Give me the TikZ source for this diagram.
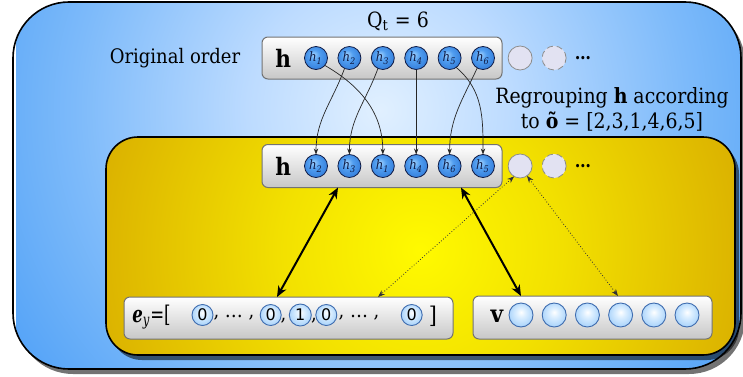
\documentclass[tikz,border=0pt]{standalone}
\usepackage{fontspec}
\setmainfont{DejaVu Serif Condensed}
\setsansfont{DejaVu Sans}
\usetikzlibrary{positioning, arrows.meta}

% background glows and ball shadings
\pgfdeclareradialshading{skyglow}{\pgfpoint{0bp}{0bp}}{rgb(0bp)=(0.88,0.94,1); rgb(9bp)=(0.74,0.86,1); rgb(21bp)=(0.49,0.73,0.98); rgb(30bp)=(0.33,0.64,0.97); rgb(36bp)=(0.25,0.59,0.96); rgb(50bp)=(0.23,0.57,0.96)}
\pgfdeclareradialshading{sunglow}{\pgfpoint{0bp}{0bp}}{rgb(0bp)=(1,0.98,0); rgb(10.6bp)=(0.95,0.88,0); rgb(24.7bp)=(0.86,0.70,0); rgb(35.4bp)=(0.81,0.62,0); rgb(50bp)=(0.80,0.60,0)}
\pgfdeclareradialshading{hglow}{\pgfpoint{-6bp}{8bp}}{rgb(0bp)=(0.62,0.82,1); rgb(12bp)=(0.32,0.62,0.94); rgb(34bp)=(0.17,0.46,0.84); rgb(50bp)=(0.10,0.34,0.68)}
\pgfdeclareradialshading{zglow}{\pgfpoint{0bp}{6bp}}{rgb(0bp)=(1,1,1); rgb(9bp)=(0.87,0.94,1); rgb(30bp)=(0.63,0.81,0.98); rgb(50bp)=(0.46,0.69,0.95)}

\definecolor{spare}{RGB}{226,226,242}
\definecolor{navy}{RGB}{16,28,70}
\definecolor{ballrim}{RGB}{62,108,175}

\newcommand{\hsub}[1]{\textit{h}\textsubscript{\itshape #1}}

\begin{document}
\begin{tikzpicture}[
  x=0.5pt, y=0.5pt,
  >=Stealth,
  panelshadow/.style={fill=black, opacity=0.55},
  panelrim/.style={draw=black, line width=0.8pt},
  rowbox/.style={draw=black!55, line width=0.5pt, rounded corners=3pt,
    top color=white, bottom color=black!22, minimum height=21pt,
    inner sep=0pt, outer sep=0pt},
  hball/.style={circle, draw=navy, line width=0.4pt, shading=hglow,
    minimum size=11.5pt, inner sep=0pt, outer sep=0pt, text=navy,
    font=\fontsize{6.5}{7}\selectfont},
  zball/.style={circle, draw=ballrim, line width=0.45pt, shading=zglow,
    minimum size=10.5pt, inner sep=0pt, outer sep=0pt,
    font=\sffamily\fontsize{8}{8}\selectfont},
  vball/.style={zball, minimum size=12pt},
  spareball/.style={circle, draw=black!45, line width=0.4pt, fill=spare,
    minimum size=12pt, inner sep=0pt, outer sep=0pt},
  bigh/.style={font=\fontsize{12}{12}\selectfont\bfseries, inner sep=0pt},
  rowtext/.style={font=\fontsize{10}{12}\selectfont, inner sep=0pt},
  reorder/.style={->, line width=0.35pt, black!85, >={Stealth[length=3pt,width=2.2pt]}},
  pairlink/.style={<->, line width=1pt, >={Stealth[length=5.5pt,width=4.5pt]}},
  sparelink/.style={<->, densely dotted, line width=0.4pt, black!80,
    >={Stealth[length=3.5pt,width=2.6pt]}}
]
\useasboundingbox (0,0) rectangle (743,376);

% ---- outer panel ----
\fill[panelshadow, rounded corners=28pt] (17,2) rectangle (745,369);
\begin{scope}
  \clip[rounded corners=28pt] (13,7) rectangle (741,374);
  \shade[shading=skyglow] (16,-98) rectangle (744,630);
\end{scope}
\draw[panelrim, rounded corners=28pt] (13,7) rectangle (741,374);

% ---- inner panel ----
\fill[panelshadow, rounded corners=16pt] (110,16) rectangle (739,234);
\begin{scope}
  \clip[rounded corners=16pt] (106,21) rectangle (735,239);
  \shade[shading=sunglow] (90,-204) rectangle (750,456);
\end{scope}
\draw[panelrim, rounded corners=16pt] (106,21) rectangle (735,239);

% ---- captions ----
\node[font=\fontsize{10.5}{12}\selectfont] (qt) at (398,355) {Q\textsubscript{t} = 6};
\node[font=\fontsize{10}{12}\selectfont] (orig) at (175,318) {Original order};
\node[font=\fontsize{10.5}{12.5}\selectfont, align=center] (regroup) at (612,267)
  {Regrouping \textbf{h} according\\ to \textbf{õ} = [2,3,1,4,6,5]};

% ---- original row ----
\node[rowbox, minimum width=120pt] (origbox) at (382,318) {};
\node[bigh, right=6.5pt of origbox.west] (origh) {h};
\node[hball] (t1) at (316,318) {\hsub{1}};
\foreach \i in {2,...,6}
  \pgfmathtruncatemacro{\j}{\i-1}
  \node[hball, right=5.2pt of t\j] (t\i) {\hsub{\i}};
\node[spareball, right=6.8pt of t6] (sa1) {};
\node[spareball, densely dashed, right=5pt of sa1] (sa2) {};
\node[font=\bfseries\fontsize{9}{9}\selectfont, inner sep=0pt] (dotsa) at (583,318) {…};

% ---- regrouped row ----
\node[rowbox, minimum width=120pt, minimum height=21.5pt] (regbox) at (382,210) {};
\node[bigh, right=6.5pt of regbox.west] (regh) {h};
\node[hball] (b1) at (316,210) {\hsub{2}};
\foreach \i/\k in {2/3, 3/1, 4/4, 5/6, 6/5}
  {\pgfmathtruncatemacro{\j}{\i-1}
  \node[hball, right=5.2pt of b\j] (b\i) {\hsub{\k}};}
\node[spareball, right=6.8pt of b6] (sb1) {};
\node[spareball, densely dashed, right=5pt of sb1] (sb2) {};
\node[font=\bfseries\fontsize{9}{9}\selectfont, inner sep=0pt] (dotsb) at (583,210) {…};

% ---- one-hot label row ----
\node[rowbox, minimum width=164.5pt] (eybox) at (288.5,58) {};
\node[font=\fontsize{11.5}{12}\selectfont, inner sep=0pt, anchor=west] (eylab) at (132,59)
  {\scalebox{0.8}[1]{\textbf{\textit{e}}\textsubscript{\itshape y}=[}};
\node[zball] (z1) at (202.5,61) {0};
\node[zball] (z2) at (270.7,61) {0};
\node[zball, minimum size=11pt] (z3) at (300.3,61) {1};
\node[zball] (z4) at (326.3,61) {0};
\node[zball] (z5) at (411.7,61) {0};
\node[rowtext] (gap1) at (234,58) {, … ,};
\node[rowtext] (c2) at (283.5,55) {,};
\node[rowtext] (c3) at (314,55) {,};
\node[rowtext] (gap2) at (359,58) {, … ,};
\node[font=\fontsize{11.5}{12}\selectfont, inner sep=0pt] (close) at (433,60) {]};

% ---- v row ----
\node[rowbox, minimum width=119.5pt, minimum height=21.5pt] (vbox) at (592.5,58.5) {};
\node[font=\fontsize{12}{12}\selectfont\bfseries, inner sep=0pt] (vlab) at (497,60) {v};
\node[vball] (v1) at (521,61) {};
\foreach \i in {2,...,6}
  \pgfmathtruncatemacro{\j}{\i-1}
  \node[vball, right=4.6pt of v\j] (v\i) {};

% ---- regrouping links ----
\draw[reorder] (t1.-40) to[out=-30, in=90] (b3.north);
\draw[reorder] (t2.-115) to[out=-110, in=90] (b1.north);
\draw[reorder] (t3.-115) to[out=-110, in=90] (b2.north);
\draw[reorder] (t4.south) -- (b4.north);
\draw[reorder] (t5.-55) to[out=-40, in=90] (b6.north);
\draw[reorder] (t6.-120) to[out=-115, in=90] (b5.north);

% ---- attention links ----
\draw[pairlink] ([xshift=-22pt]regbox.south) -- ([xshift=-5.75pt]eybox.north);
\draw[pairlink] ([xshift=39.5pt]regbox.south) -- ([xshift=-35.75pt]vbox.north);
\draw[sparelink] (sb1.-120) -- ([xshift=44.75pt]eybox.north);
\draw[sparelink] (sb1.-55) -- ([xshift=12.75pt]vbox.north);
\end{tikzpicture}
\end{document}
